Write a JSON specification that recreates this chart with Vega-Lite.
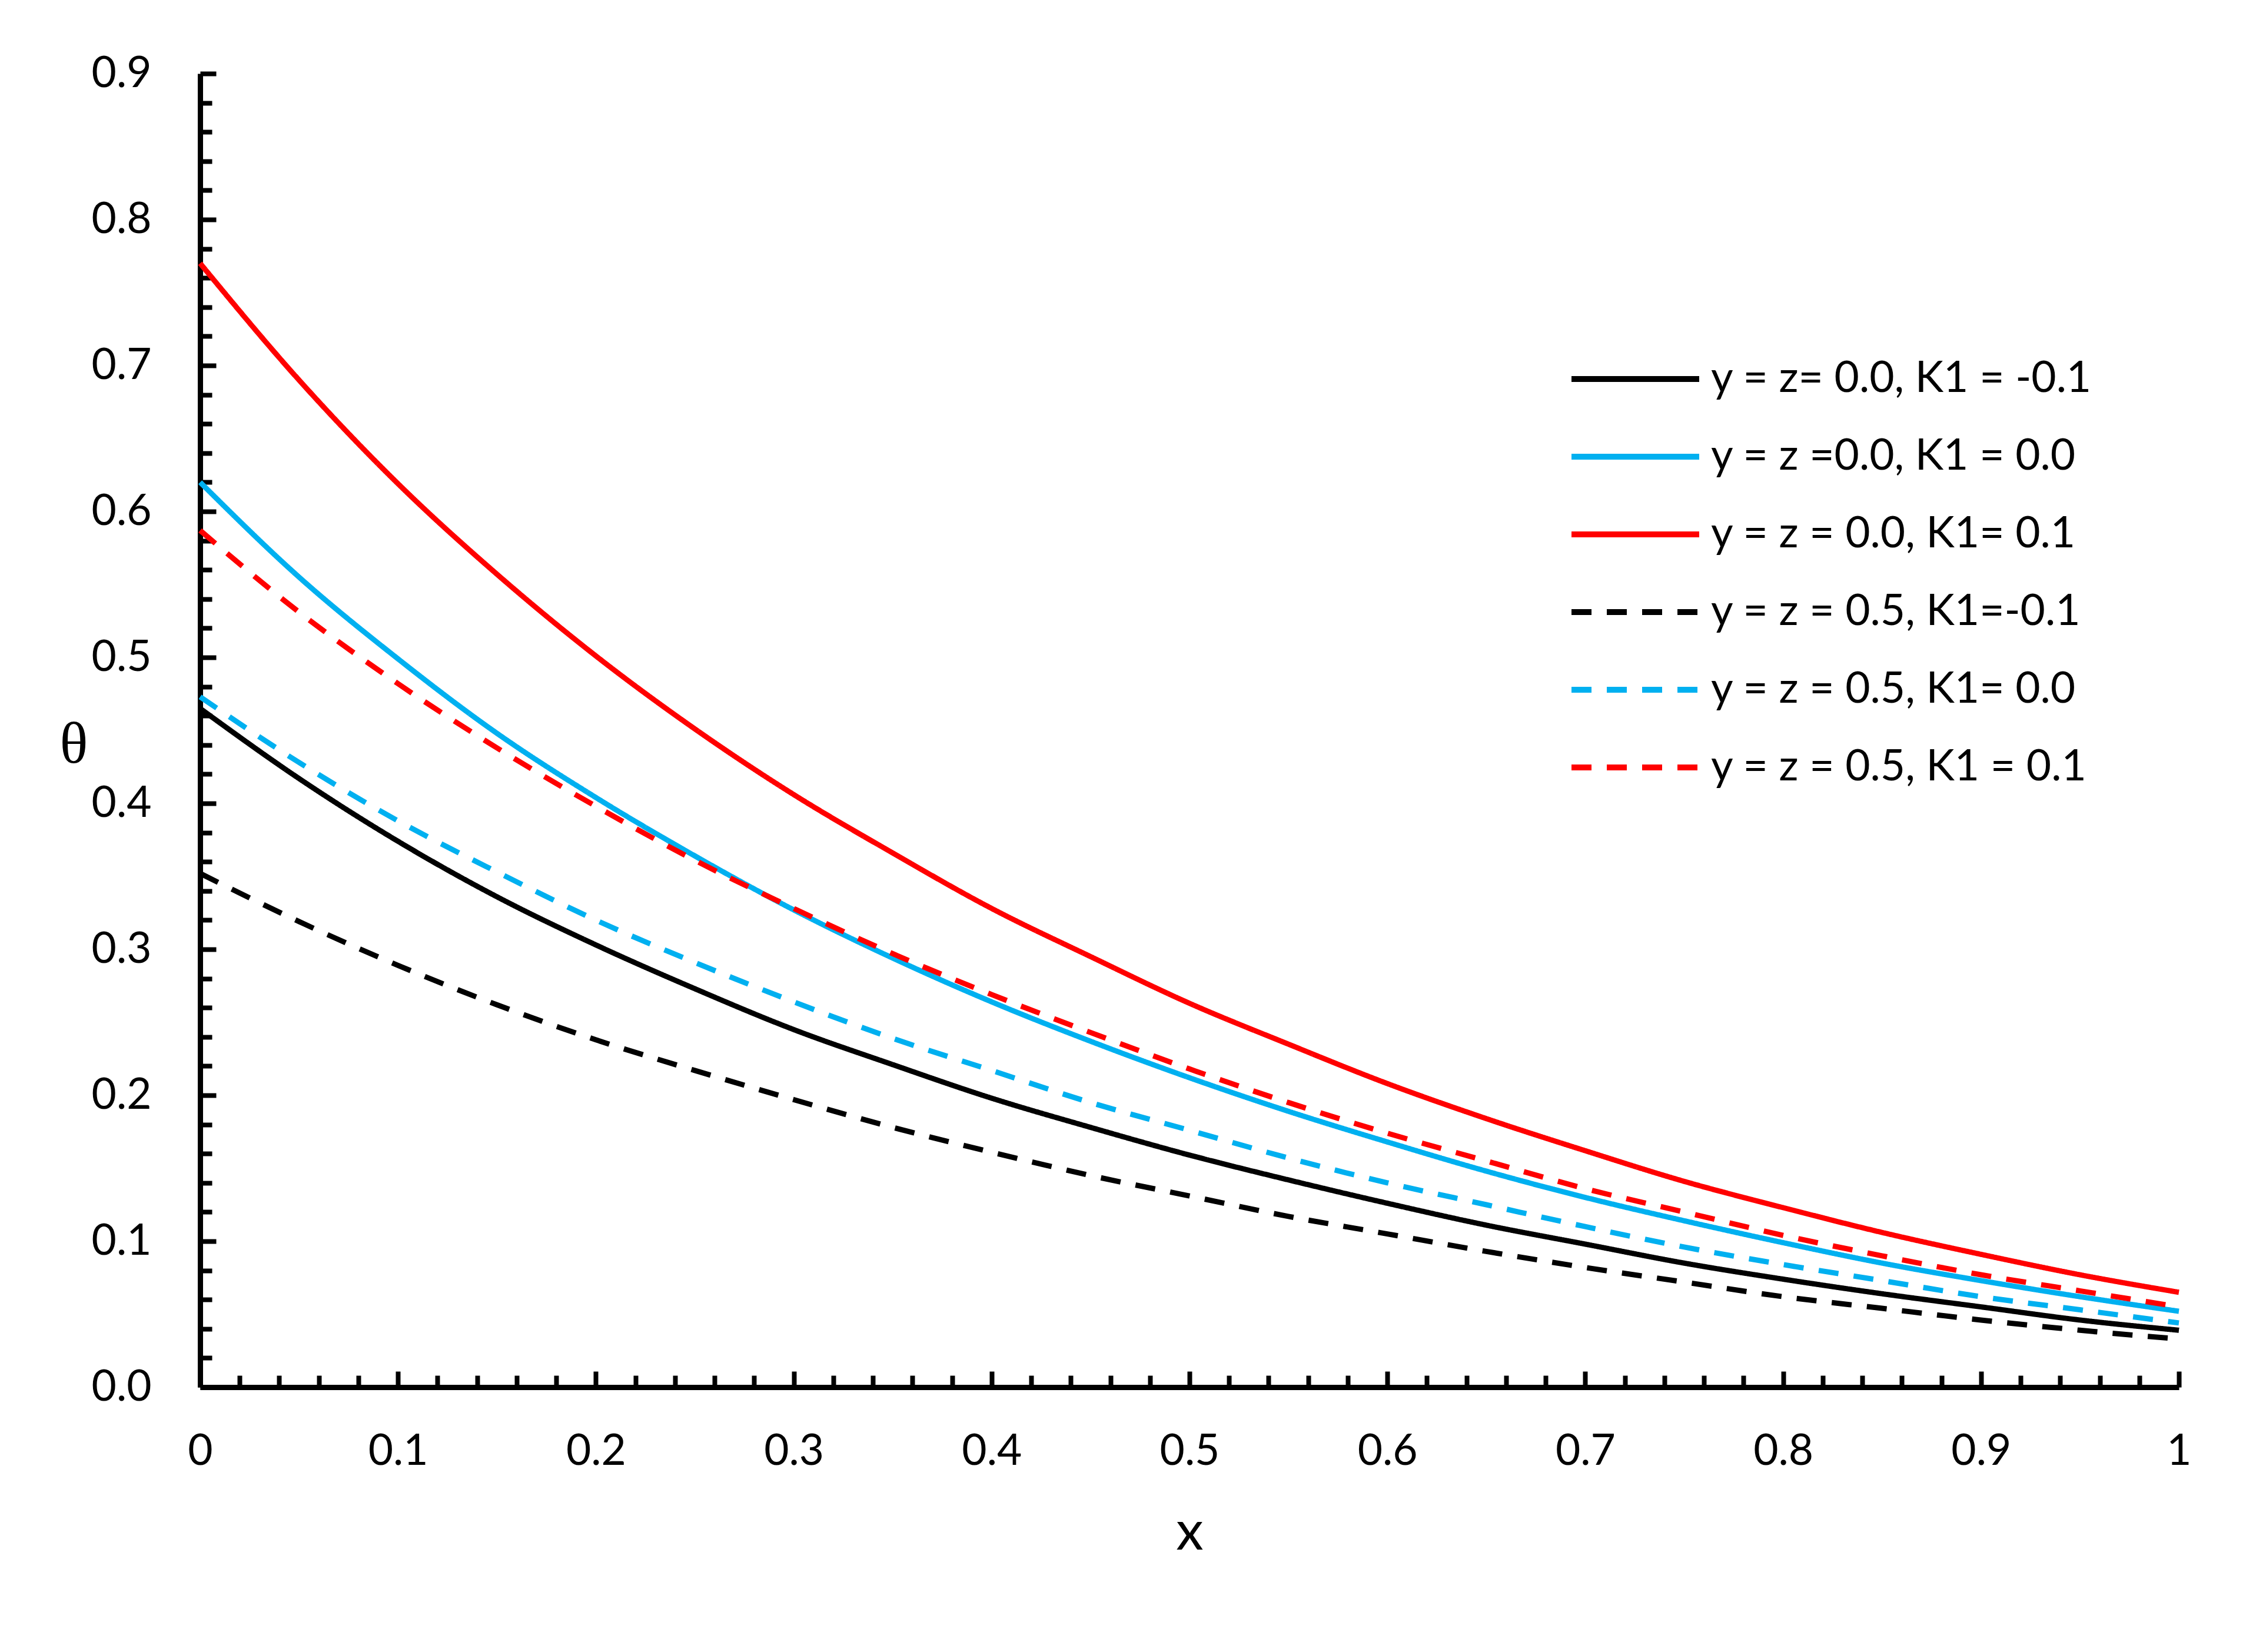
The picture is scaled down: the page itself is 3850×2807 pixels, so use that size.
{
  "$schema": "https://vega.github.io/schema/vega-lite/v6.json",
  "width": 3362,
  "height": 2232,
  "autosize": {"type": "none"},
  "padding": {"left": 340, "top": 125, "right": 148, "bottom": 450},
  "background": "white",
  "data": {
    "values": [
      {"series": "y = z= 0.0, K1 = -0.1", "x": 0, "theta": 0.465},
      {"series": "y = z= 0.0, K1 = -0.1", "x": 0.05, "theta": 0.417},
      {"series": "y = z= 0.0, K1 = -0.1", "x": 0.1, "theta": 0.374},
      {"series": "y = z= 0.0, K1 = -0.1", "x": 0.15, "theta": 0.336},
      {"series": "y = z= 0.0, K1 = -0.1", "x": 0.2, "theta": 0.303},
      {"series": "y = z= 0.0, K1 = -0.1", "x": 0.25, "theta": 0.273},
      {"series": "y = z= 0.0, K1 = -0.1", "x": 0.3, "theta": 0.245},
      {"series": "y = z= 0.0, K1 = -0.1", "x": 0.35, "theta": 0.221},
      {"series": "y = z= 0.0, K1 = -0.1", "x": 0.4, "theta": 0.198},
      {"series": "y = z= 0.0, K1 = -0.1", "x": 0.45, "theta": 0.178},
      {"series": "y = z= 0.0, K1 = -0.1", "x": 0.5, "theta": 0.159},
      {"series": "y = z= 0.0, K1 = -0.1", "x": 0.55, "theta": 0.142},
      {"series": "y = z= 0.0, K1 = -0.1", "x": 0.6, "theta": 0.126},
      {"series": "y = z= 0.0, K1 = -0.1", "x": 0.65, "theta": 0.111},
      {"series": "y = z= 0.0, K1 = -0.1", "x": 0.7, "theta": 0.098},
      {"series": "y = z= 0.0, K1 = -0.1", "x": 0.75, "theta": 0.085},
      {"series": "y = z= 0.0, K1 = -0.1", "x": 0.8, "theta": 0.074},
      {"series": "y = z= 0.0, K1 = -0.1", "x": 0.85, "theta": 0.064},
      {"series": "y = z= 0.0, K1 = -0.1", "x": 0.9, "theta": 0.055},
      {"series": "y = z= 0.0, K1 = -0.1", "x": 0.95, "theta": 0.046},
      {"series": "y = z= 0.0, K1 = -0.1", "x": 1, "theta": 0.039},
      {"series": "y = z =0.0, K1 = 0.0", "x": 0, "theta": 0.62},
      {"series": "y = z =0.0, K1 = 0.0", "x": 0.05, "theta": 0.555},
      {"series": "y = z =0.0, K1 = 0.0", "x": 0.1, "theta": 0.499},
      {"series": "y = z =0.0, K1 = 0.0", "x": 0.15, "theta": 0.448},
      {"series": "y = z =0.0, K1 = 0.0", "x": 0.2, "theta": 0.404},
      {"series": "y = z =0.0, K1 = 0.0", "x": 0.25, "theta": 0.364},
      {"series": "y = z =0.0, K1 = 0.0", "x": 0.3, "theta": 0.327},
      {"series": "y = z =0.0, K1 = 0.0", "x": 0.35, "theta": 0.294},
      {"series": "y = z =0.0, K1 = 0.0", "x": 0.4, "theta": 0.264},
      {"series": "y = z =0.0, K1 = 0.0", "x": 0.45, "theta": 0.237},
      {"series": "y = z =0.0, K1 = 0.0", "x": 0.5, "theta": 0.212},
      {"series": "y = z =0.0, K1 = 0.0", "x": 0.55, "theta": 0.189},
      {"series": "y = z =0.0, K1 = 0.0", "x": 0.6, "theta": 0.168},
      {"series": "y = z =0.0, K1 = 0.0", "x": 0.65, "theta": 0.148},
      {"series": "y = z =0.0, K1 = 0.0", "x": 0.7, "theta": 0.13},
      {"series": "y = z =0.0, K1 = 0.0", "x": 0.75, "theta": 0.114},
      {"series": "y = z =0.0, K1 = 0.0", "x": 0.8, "theta": 0.099},
      {"series": "y = z =0.0, K1 = 0.0", "x": 0.85, "theta": 0.085},
      {"series": "y = z =0.0, K1 = 0.0", "x": 0.9, "theta": 0.073},
      {"series": "y = z =0.0, K1 = 0.0", "x": 0.95, "theta": 0.062},
      {"series": "y = z =0.0, K1 = 0.0", "x": 1, "theta": 0.052},
      {"series": "y = z = 0.0, K1= 0.1", "x": 0, "theta": 0.77},
      {"series": "y = z = 0.0, K1= 0.1", "x": 0.05, "theta": 0.69},
      {"series": "y = z = 0.0, K1= 0.1", "x": 0.1, "theta": 0.619},
      {"series": "y = z = 0.0, K1= 0.1", "x": 0.15, "theta": 0.557},
      {"series": "y = z = 0.0, K1= 0.1", "x": 0.2, "theta": 0.501},
      {"series": "y = z = 0.0, K1= 0.1", "x": 0.25, "theta": 0.451},
      {"series": "y = z = 0.0, K1= 0.1", "x": 0.3, "theta": 0.406},
      {"series": "y = z = 0.0, K1= 0.1", "x": 0.35, "theta": 0.366},
      {"series": "y = z = 0.0, K1= 0.1", "x": 0.4, "theta": 0.328},
      {"series": "y = z = 0.0, K1= 0.1", "x": 0.45, "theta": 0.295},
      {"series": "y = z = 0.0, K1= 0.1", "x": 0.5, "theta": 0.263},
      {"series": "y = z = 0.0, K1= 0.1", "x": 0.55, "theta": 0.235},
      {"series": "y = z = 0.0, K1= 0.1", "x": 0.6, "theta": 0.208},
      {"series": "y = z = 0.0, K1= 0.1", "x": 0.65, "theta": 0.184},
      {"series": "y = z = 0.0, K1= 0.1", "x": 0.7, "theta": 0.162},
      {"series": "y = z = 0.0, K1= 0.1", "x": 0.75, "theta": 0.141},
      {"series": "y = z = 0.0, K1= 0.1", "x": 0.8, "theta": 0.123},
      {"series": "y = z = 0.0, K1= 0.1", "x": 0.85, "theta": 0.106},
      {"series": "y = z = 0.0, K1= 0.1", "x": 0.9, "theta": 0.091},
      {"series": "y = z = 0.0, K1= 0.1", "x": 0.95, "theta": 0.077},
      {"series": "y = z = 0.0, K1= 0.1", "x": 1, "theta": 0.065},
      {"series": "y = z = 0.5, K1=-0.1", "x": 0, "theta": 0.352},
      {"series": "y = z = 0.5, K1=-0.1", "x": 0.05, "theta": 0.319},
      {"series": "y = z = 0.5, K1=-0.1", "x": 0.1, "theta": 0.289},
      {"series": "y = z = 0.5, K1=-0.1", "x": 0.15, "theta": 0.262},
      {"series": "y = z = 0.5, K1=-0.1", "x": 0.2, "theta": 0.238},
      {"series": "y = z = 0.5, K1=-0.1", "x": 0.25, "theta": 0.217},
      {"series": "y = z = 0.5, K1=-0.1", "x": 0.3, "theta": 0.197},
      {"series": "y = z = 0.5, K1=-0.1", "x": 0.35, "theta": 0.178},
      {"series": "y = z = 0.5, K1=-0.1", "x": 0.4, "theta": 0.161},
      {"series": "y = z = 0.5, K1=-0.1", "x": 0.45, "theta": 0.145},
      {"series": "y = z = 0.5, K1=-0.1", "x": 0.5, "theta": 0.131},
      {"series": "y = z = 0.5, K1=-0.1", "x": 0.55, "theta": 0.117},
      {"series": "y = z = 0.5, K1=-0.1", "x": 0.6, "theta": 0.105},
      {"series": "y = z = 0.5, K1=-0.1", "x": 0.65, "theta": 0.093},
      {"series": "y = z = 0.5, K1=-0.1", "x": 0.7, "theta": 0.082},
      {"series": "y = z = 0.5, K1=-0.1", "x": 0.75, "theta": 0.072},
      {"series": "y = z = 0.5, K1=-0.1", "x": 0.8, "theta": 0.062},
      {"series": "y = z = 0.5, K1=-0.1", "x": 0.85, "theta": 0.054},
      {"series": "y = z = 0.5, K1=-0.1", "x": 0.9, "theta": 0.046},
      {"series": "y = z = 0.5, K1=-0.1", "x": 0.95, "theta": 0.039},
      {"series": "y = z = 0.5, K1=-0.1", "x": 1, "theta": 0.033},
      {"series": "y = z = 0.5, K1= 0.0", "x": 0, "theta": 0.473},
      {"series": "y = z = 0.5, K1= 0.0", "x": 0.05, "theta": 0.428},
      {"series": "y = z = 0.5, K1= 0.0", "x": 0.1, "theta": 0.388},
      {"series": "y = z = 0.5, K1= 0.0", "x": 0.15, "theta": 0.353},
      {"series": "y = z = 0.5, K1= 0.0", "x": 0.2, "theta": 0.32},
      {"series": "y = z = 0.5, K1= 0.0", "x": 0.25, "theta": 0.291},
      {"series": "y = z = 0.5, K1= 0.0", "x": 0.3, "theta": 0.264},
      {"series": "y = z = 0.5, K1= 0.0", "x": 0.35, "theta": 0.239},
      {"series": "y = z = 0.5, K1= 0.0", "x": 0.4, "theta": 0.217},
      {"series": "y = z = 0.5, K1= 0.0", "x": 0.45, "theta": 0.195},
      {"series": "y = z = 0.5, K1= 0.0", "x": 0.5, "theta": 0.176},
      {"series": "y = z = 0.5, K1= 0.0", "x": 0.55, "theta": 0.157},
      {"series": "y = z = 0.5, K1= 0.0", "x": 0.6, "theta": 0.14},
      {"series": "y = z = 0.5, K1= 0.0", "x": 0.65, "theta": 0.125},
      {"series": "y = z = 0.5, K1= 0.0", "x": 0.7, "theta": 0.11},
      {"series": "y = z = 0.5, K1= 0.0", "x": 0.75, "theta": 0.096},
      {"series": "y = z = 0.5, K1= 0.0", "x": 0.8, "theta": 0.084},
      {"series": "y = z = 0.5, K1= 0.0", "x": 0.85, "theta": 0.073},
      {"series": "y = z = 0.5, K1= 0.0", "x": 0.9, "theta": 0.062},
      {"series": "y = z = 0.5, K1= 0.0", "x": 0.95, "theta": 0.053},
      {"series": "y = z = 0.5, K1= 0.0", "x": 1, "theta": 0.044},
      {"series": "y = z = 0.5, K1 = 0.1", "x": 0, "theta": 0.587},
      {"series": "y = z = 0.5, K1 = 0.1", "x": 0.05, "theta": 0.531},
      {"series": "y = z = 0.5, K1 = 0.1", "x": 0.1, "theta": 0.482},
      {"series": "y = z = 0.5, K1 = 0.1", "x": 0.15, "theta": 0.438},
      {"series": "y = z = 0.5, K1 = 0.1", "x": 0.2, "theta": 0.398},
      {"series": "y = z = 0.5, K1 = 0.1", "x": 0.25, "theta": 0.361},
      {"series": "y = z = 0.5, K1 = 0.1", "x": 0.3, "theta": 0.328},
      {"series": "y = z = 0.5, K1 = 0.1", "x": 0.35, "theta": 0.297},
      {"series": "y = z = 0.5, K1 = 0.1", "x": 0.4, "theta": 0.269},
      {"series": "y = z = 0.5, K1 = 0.1", "x": 0.45, "theta": 0.243},
      {"series": "y = z = 0.5, K1 = 0.1", "x": 0.5, "theta": 0.218},
      {"series": "y = z = 0.5, K1 = 0.1", "x": 0.55, "theta": 0.195},
      {"series": "y = z = 0.5, K1 = 0.1", "x": 0.6, "theta": 0.174},
      {"series": "y = z = 0.5, K1 = 0.1", "x": 0.65, "theta": 0.155},
      {"series": "y = z = 0.5, K1 = 0.1", "x": 0.7, "theta": 0.136},
      {"series": "y = z = 0.5, K1 = 0.1", "x": 0.75, "theta": 0.12},
      {"series": "y = z = 0.5, K1 = 0.1", "x": 0.8, "theta": 0.104},
      {"series": "y = z = 0.5, K1 = 0.1", "x": 0.85, "theta": 0.09},
      {"series": "y = z = 0.5, K1 = 0.1", "x": 0.9, "theta": 0.077},
      {"series": "y = z = 0.5, K1 = 0.1", "x": 0.95, "theta": 0.066},
      {"series": "y = z = 0.5, K1 = 0.1", "x": 1, "theta": 0.055}
    ]
  },
  "layer": [
    {
      "mark": {"type": "line", "strokeWidth": 9, "interpolate": "monotone"},
      "encoding": {
        "x": {
          "field": "x",
          "type": "quantitative",
          "scale": {"domain": [0, 1], "nice": false, "zero": false},
          "axis": {
            "orient": "bottom",
            "values": [0, 0.1, 0.2, 0.3, 0.4, 0.5, 0.6, 0.7, 0.8, 0.9, 1],
            "format": "~g",
            "ticks": false,
            "grid": false,
            "domainColor": "black",
            "domainWidth": 9,
            "labelFont": "Lato",
            "labelFontSize": 73,
            "labelColor": "black",
            "labelPadding": 73,
            "labelFlush": false,
            "labelOverlap": false,
            "title": "x",
            "titleFont": "Lato",
            "titleFontSize": 93,
            "titleFontWeight": "normal",
            "titleColor": "black",
            "titleX": 1681,
            "titleY": 275,
            "titleAlign": "center",
            "titleBaseline": "alphabetic"
          }
        },
        "y": {
          "field": "theta",
          "type": "quantitative",
          "scale": {"domain": [0, 0.9], "nice": false},
          "axis": {
            "orient": "left",
            "values": [0, 0.1, 0.2, 0.3, 0.4, 0.5, 0.6, 0.7, 0.8, 0.9],
            "format": ".1f",
            "ticks": false,
            "grid": false,
            "domainColor": "black",
            "domainWidth": 9,
            "labelFont": "Lato",
            "labelFontSize": 73,
            "labelColor": "black",
            "labelPadding": 83,
            "labelFlush": false,
            "labelOverlap": false,
            "title": "θ",
            "titleFont": "Liberation Serif",
            "titleFontSize": 100,
            "titleFontWeight": "normal",
            "titleColor": "black",
            "titleAngle": 0,
            "titleX": -215,
            "titleY": 1140,
            "titleAlign": "center",
            "titleBaseline": "middle"
          }
        },
        "color": {
          "field": "series",
          "type": "nominal",
          "sort": null,
          "scale": {
            "domain": [
              "y = z= 0.0, K1 = -0.1",
              "y = z =0.0, K1 = 0.0",
              "y = z = 0.0, K1= 0.1",
              "y = z = 0.5, K1=-0.1",
              "y = z = 0.5, K1= 0.0",
              "y = z = 0.5, K1 = 0.1"
            ],
            "range": ["#000000", "#00B0F0", "#FF0000", "#000000", "#00B0F0", "#FF0000"]
          },
          "legend": {"title": null}
        },
        "strokeDash": {
          "field": "series",
          "type": "nominal",
          "sort": null,
          "scale": {
            "domain": [
              "y = z= 0.0, K1 = -0.1",
              "y = z =0.0, K1 = 0.0",
              "y = z = 0.0, K1= 0.1",
              "y = z = 0.5, K1=-0.1",
              "y = z = 0.5, K1= 0.0",
              "y = z = 0.5, K1 = 0.1"
            ],
            "range": [[1, 0], [1, 0], [1, 0], [34, 26], [34, 26], [34, 26]]
          },
          "legend": {"title": null}
        }
      }
    },
    {
      "mark": {"type": "line", "opacity": 0},
      "encoding": {
        "x": {
          "field": "x",
          "type": "quantitative",
          "axis": {
            "orient": "bottom",
            "values": [0, 0.1, 0.2, 0.3, 0.4, 0.5, 0.6, 0.7, 0.8, 0.9, 1],
            "labels": false,
            "domain": false,
            "grid": false,
            "title": null,
            "tickSize": -27,
            "tickWidth": 8,
            "tickColor": "black"
          }
        },
        "y": {
          "field": "theta",
          "type": "quantitative",
          "axis": {
            "orient": "left",
            "values": [0, 0.1, 0.2, 0.3, 0.4, 0.5, 0.6, 0.7, 0.8, 0.9],
            "labels": false,
            "domain": false,
            "grid": false,
            "title": null,
            "tickSize": -27,
            "tickWidth": 8,
            "tickColor": "black"
          }
        },
        "detail": {"field": "series", "type": "nominal"}
      }
    },
    {
      "mark": {"type": "line", "opacity": 0},
      "encoding": {
        "x": {
          "field": "x",
          "type": "quantitative",
          "axis": {
            "orient": "bottom",
            "values": [0.02, 0.04, 0.06, 0.08, 0.12, 0.14, 0.16, 0.18, 0.22, 0.24, 0.26, 0.28, 0.32, 0.34, 0.36, 0.38, 0.42, 0.44, 0.46, 0.48, 0.52, 0.54, 0.56, 0.58, 0.62, 0.64, 0.66, 0.68, 0.72, 0.74, 0.76, 0.78, 0.82, 0.84, 0.86, 0.88, 0.92, 0.94, 0.96, 0.98],
            "labels": false,
            "domain": false,
            "grid": false,
            "title": null,
            "tickSize": -20,
            "tickWidth": 8,
            "tickColor": "black"
          }
        },
        "y": {
          "field": "theta",
          "type": "quantitative",
          "axis": {
            "orient": "left",
            "values": [0.02, 0.04, 0.06, 0.08, 0.12, 0.14, 0.16, 0.18, 0.22, 0.24, 0.26, 0.28, 0.32, 0.34, 0.36, 0.38, 0.42, 0.44, 0.46, 0.48, 0.52, 0.54, 0.56, 0.58, 0.62, 0.64, 0.66, 0.68, 0.72, 0.74, 0.76, 0.78, 0.82, 0.84, 0.86, 0.88],
            "labels": false,
            "domain": false,
            "grid": false,
            "title": null,
            "tickSize": -20,
            "tickWidth": 8,
            "tickColor": "black"
          }
        },
        "detail": {"field": "series", "type": "nominal"}
      }
    }
  ],
  "resolve": {"axis": {"x": "independent", "y": "independent"}},
  "config": {
    "view": {"stroke": null},
    "font": "Lato",
    "legend": {
      "orient": "none",
      "legendX": 2325,
      "legendY": 479,
      "padding": 0,
      "symbolType": "stroke",
      "symbolSize": 47089,
      "symbolStrokeWidth": 10,
      "clipHeight": 80,
      "rowPadding": 52,
      "labelOffset": 15,
      "labelFont": "Lato",
      "labelFontSize": 73,
      "labelColor": "black",
      "labelLimit": 1200
    }
  }
}
